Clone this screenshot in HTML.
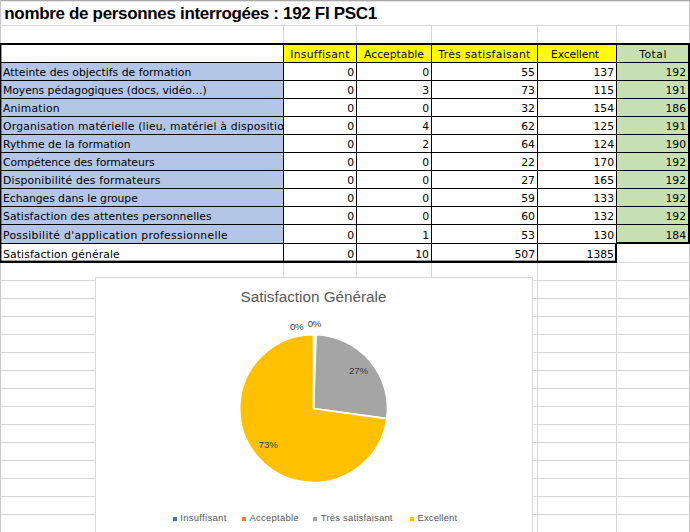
<!DOCTYPE html>
<html lang="fr"><head><meta charset="utf-8"><title>Satisfaction</title>
<style>
html,body{margin:0;padding:0;background:#fff}
body{width:690px;height:532px;position:relative;overflow:hidden;font-family:"DejaVu Sans","Liberation Sans",sans-serif;color:#000}
.a{position:absolute}
.g{position:absolute;background:#d6d6d6}
.k{position:absolute;background:#000}
.t{position:absolute;white-space:nowrap;font-size:10.8px;line-height:18px;height:18px;overflow:hidden}
.n{text-align:right}
.c{text-align:center}
.title{position:absolute;left:4.3px;top:3.3px;font-family:"Liberation Sans",sans-serif;font-weight:bold;font-size:17px;line-height:22px;white-space:nowrap;letter-spacing:-0.33px}
.ch{font-family:"Liberation Sans",sans-serif;color:#595959}
</style></head><body>

<div class="g" style="left:0;top:0;width:690px;height:1px;background:#a8a8a8"></div>
<div class="g" style="left:0;top:1px;width:690px;height:1px;background:#e6e6e6"></div>
<div class="g" style="left:0;top:0;width:1px;height:532px;background:#c9c9c9"></div>
<div class="g" style="left:0;top:25px;width:690px;height:1px"></div>
<div class="g" style="left:283px;top:26px;width:1px;height:17px"></div>
<div class="g" style="left:283px;top:263px;width:1px;height:269px"></div>
<div class="g" style="left:356px;top:26px;width:1px;height:17px"></div>
<div class="g" style="left:356px;top:263px;width:1px;height:269px"></div>
<div class="g" style="left:431px;top:26px;width:1px;height:17px"></div>
<div class="g" style="left:431px;top:263px;width:1px;height:269px"></div>
<div class="g" style="left:537px;top:26px;width:1px;height:17px"></div>
<div class="g" style="left:537px;top:263px;width:1px;height:269px"></div>
<div class="g" style="left:616px;top:26px;width:1px;height:17px"></div>
<div class="g" style="left:616px;top:263px;width:1px;height:269px"></div>
<div class="g" style="left:689px;top:1px;width:1px;height:42px;background:#c8c8c8"></div>
<div class="g" style="left:689px;top:244px;width:1px;height:288px;background:#c8c8c8"></div>
<div class="g" style="left:617px;top:262px;width:73px;height:1px"></div>
<div class="g" style="left:1px;top:280px;width:689px;height:1px"></div>
<div class="g" style="left:1px;top:298px;width:689px;height:1px"></div>
<div class="g" style="left:1px;top:316px;width:689px;height:1px"></div>
<div class="g" style="left:1px;top:334px;width:689px;height:1px"></div>
<div class="g" style="left:1px;top:352px;width:689px;height:1px"></div>
<div class="g" style="left:1px;top:370px;width:689px;height:1px"></div>
<div class="g" style="left:1px;top:388px;width:689px;height:1px"></div>
<div class="g" style="left:1px;top:406px;width:689px;height:1px"></div>
<div class="g" style="left:1px;top:424px;width:689px;height:1px"></div>
<div class="g" style="left:1px;top:442px;width:689px;height:1px"></div>
<div class="g" style="left:1px;top:460px;width:689px;height:1px"></div>
<div class="g" style="left:1px;top:478px;width:689px;height:1px"></div>
<div class="g" style="left:1px;top:496px;width:689px;height:1px"></div>
<div class="g" style="left:1px;top:514px;width:689px;height:1px"></div>
<div class="a" style="left:284px;top:45px;width:333px;height:17px;background:#ffff00"></div>
<div class="a" style="left:617px;top:45px;width:71px;height:197px;background:#c6e0b4"></div>
<div class="a" style="left:1px;top:63px;width:282px;height:180px;background:#b4c6e7"></div>
<div class="k" style="left:0;top:43px;width:690px;height:2px"></div>
<div class="k" style="left:0;top:43px;width:1px;height:220px"></div>
<div class="k" style="left:1px;top:43px;width:1px;height:220px;opacity:.4"></div>
<div class="k" style="left:688px;top:43px;width:2px;height:201px"></div>
<div class="k" style="left:0;top:62px;width:688px;height:1px"></div>
<div class="k" style="left:0;top:80px;width:688px;height:1px"></div>
<div class="k" style="left:0;top:98px;width:688px;height:1px"></div>
<div class="k" style="left:0;top:116px;width:688px;height:1px"></div>
<div class="k" style="left:0;top:134px;width:688px;height:1px"></div>
<div class="k" style="left:0;top:152px;width:688px;height:1px"></div>
<div class="k" style="left:0;top:170px;width:688px;height:1px"></div>
<div class="k" style="left:0;top:188px;width:688px;height:1px"></div>
<div class="k" style="left:0;top:206px;width:688px;height:1px"></div>
<div class="k" style="left:0;top:224px;width:688px;height:1px"></div>
<div class="k" style="left:0;top:243px;width:617px;height:1px"></div>
<div class="k" style="left:616px;top:242px;width:74px;height:2px"></div>
<div class="k" style="left:0;top:261px;width:617px;height:2px"></div>
<div class="k" style="left:0;top:260px;width:617px;height:1px;opacity:.4"></div>
<div class="k" style="left:283px;top:45px;width:1px;height:218px"></div>
<div class="k" style="left:356px;top:45px;width:1px;height:218px"></div>
<div class="k" style="left:431px;top:45px;width:1px;height:218px"></div>
<div class="k" style="left:537px;top:45px;width:1px;height:218px"></div>
<div class="k" style="left:616px;top:45px;width:1px;height:199px"></div>
<div class="k" style="left:615px;top:243px;width:2px;height:20px"></div>
<div class="title">nombre de personnes interrogées : 192 FI PSC1</div>
<div class="t c" style="left:284px;top:46px;width:72px;letter-spacing:0.273px">Insuffisant</div>
<div class="t c" style="left:357px;top:46px;width:74px">Acceptable</div>
<div class="t c" style="left:432px;top:46px;width:105px;letter-spacing:0.328px">Très satisfaisant</div>
<div class="t c" style="left:536px;top:46px;width:78px;letter-spacing:-0.166px">Excellent</div>
<div class="t c" style="left:617.6px;top:46px;width:71px;letter-spacing:0.52px">Total</div>
<div class="t" style="left:3px;top:64px;width:280px;letter-spacing:0.022px">Atteinte des objectifs de formation</div>
<div class="t n" style="left:284px;top:64px;width:70px">0</div>
<div class="t n" style="left:357px;top:64px;width:72px">0</div>
<div class="t n" style="left:432px;top:64px;width:103px">55</div>
<div class="t n" style="left:538px;top:64px;width:76px">137</div>
<div class="t n" style="left:617px;top:64px;width:69px">192</div>
<div class="t" style="left:3px;top:82px;width:280px;letter-spacing:-0.041px">Moyens pédagogiques (docs, vidéo…)</div>
<div class="t n" style="left:284px;top:82px;width:70px">0</div>
<div class="t n" style="left:357px;top:82px;width:72px">3</div>
<div class="t n" style="left:432px;top:82px;width:103px">73</div>
<div class="t n" style="left:538px;top:82px;width:76px">115</div>
<div class="t n" style="left:617px;top:82px;width:69px">191</div>
<div class="t" style="left:3px;top:100px;width:280px;letter-spacing:0.193px">Animation</div>
<div class="t n" style="left:284px;top:100px;width:70px">0</div>
<div class="t n" style="left:357px;top:100px;width:72px">0</div>
<div class="t n" style="left:432px;top:100px;width:103px">32</div>
<div class="t n" style="left:538px;top:100px;width:76px">154</div>
<div class="t n" style="left:617px;top:100px;width:69px">186</div>
<div class="t" style="left:3px;top:118px;width:280px;letter-spacing:0.19px">Organisation matérielle (lieu, matériel à disposition)</div>
<div class="t n" style="left:284px;top:118px;width:70px">0</div>
<div class="t n" style="left:357px;top:118px;width:72px">4</div>
<div class="t n" style="left:432px;top:118px;width:103px">62</div>
<div class="t n" style="left:538px;top:118px;width:76px">125</div>
<div class="t n" style="left:617px;top:118px;width:69px">191</div>
<div class="t" style="left:3px;top:136px;width:280px;letter-spacing:0.009px">Rythme de la formation</div>
<div class="t n" style="left:284px;top:136px;width:70px">0</div>
<div class="t n" style="left:357px;top:136px;width:72px">2</div>
<div class="t n" style="left:432px;top:136px;width:103px">64</div>
<div class="t n" style="left:538px;top:136px;width:76px">124</div>
<div class="t n" style="left:617px;top:136px;width:69px">190</div>
<div class="t" style="left:3px;top:154px;width:280px;letter-spacing:-0.101px">Compétence des formateurs</div>
<div class="t n" style="left:284px;top:154px;width:70px">0</div>
<div class="t n" style="left:357px;top:154px;width:72px">0</div>
<div class="t n" style="left:432px;top:154px;width:103px">22</div>
<div class="t n" style="left:538px;top:154px;width:76px">170</div>
<div class="t n" style="left:617px;top:154px;width:69px">192</div>
<div class="t" style="left:3px;top:172px;width:280px;letter-spacing:0.184px">Disponibilité des formateurs</div>
<div class="t n" style="left:284px;top:172px;width:70px">0</div>
<div class="t n" style="left:357px;top:172px;width:72px">0</div>
<div class="t n" style="left:432px;top:172px;width:103px">27</div>
<div class="t n" style="left:538px;top:172px;width:76px">165</div>
<div class="t n" style="left:617px;top:172px;width:69px">192</div>
<div class="t" style="left:3px;top:190px;width:280px;letter-spacing:-0.057px">Echanges dans le groupe</div>
<div class="t n" style="left:284px;top:190px;width:70px">0</div>
<div class="t n" style="left:357px;top:190px;width:72px">0</div>
<div class="t n" style="left:432px;top:190px;width:103px">59</div>
<div class="t n" style="left:538px;top:190px;width:76px">133</div>
<div class="t n" style="left:617px;top:190px;width:69px">192</div>
<div class="t" style="left:3px;top:208px;width:280px;letter-spacing:0.055px">Satisfaction des attentes personnelles</div>
<div class="t n" style="left:284px;top:208px;width:70px">0</div>
<div class="t n" style="left:357px;top:208px;width:72px">0</div>
<div class="t n" style="left:432px;top:208px;width:103px">60</div>
<div class="t n" style="left:538px;top:208px;width:76px">132</div>
<div class="t n" style="left:617px;top:208px;width:69px">192</div>
<div class="t" style="left:3px;top:227px;width:280px;letter-spacing:0.321px">Possibilité d'application professionnelle</div>
<div class="t n" style="left:284px;top:227px;width:70px">0</div>
<div class="t n" style="left:357px;top:227px;width:72px">1</div>
<div class="t n" style="left:432px;top:227px;width:103px">53</div>
<div class="t n" style="left:538px;top:227px;width:76px">130</div>
<div class="t n" style="left:617px;top:227px;width:69px">184</div>
<div class="t" style="left:3px;top:246px;width:280px;letter-spacing:0.11px">Satisfaction générale</div>
<div class="t n" style="left:284px;top:246px;width:70px">0</div>
<div class="t n" style="left:357px;top:246px;width:72px">10</div>
<div class="t n" style="left:432px;top:246px;width:103px">507</div>
<div class="t n" style="left:538px;top:246px;width:76px">1385</div>
<div class="a" style="left:95px;top:277px;width:438px;height:270px;background:#fff;border:1px solid #d9d9d9;box-sizing:border-box"></div>
<svg class="a" style="left:95px;top:277px" width="437" height="255" viewBox="95 277 437 255"><path d="M313.60,408.55 L313.60,334.55 A74.0,74.0 0 0 1 316.04,334.59 Z" fill="#ed7d31" fill-opacity=".12" stroke="#fff" stroke-width="1.8" stroke-linejoin="round"/><path d="M313.60,408.55 L316.04,334.59 A74.0,74.0 0 0 1 386.91,418.66 Z" fill="#a5a5a5" stroke="#fff" stroke-width="1.8" stroke-linejoin="round"/><path d="M313.60,408.55 L386.91,418.66 A74.0,74.0 0 1 1 313.60,334.55 Z" fill="#ffc000" stroke="#fff" stroke-width="1.8" stroke-linejoin="round"/></svg>
<div class="a ch" style="left:95px;top:287px;width:437px;text-align:center;font-size:15.25px;line-height:20px">Satisfaction Générale</div>
<div class="a ch" style="left:290px;top:320.5px;font-size:9.7px;line-height:12px;color:#3a3a3a;white-space:nowrap;letter-spacing:-0.4px">0%</div>
<div class="a ch" style="left:307.8px;top:318px;font-size:9.7px;line-height:12px;color:#3a3a3a;white-space:nowrap;letter-spacing:-0.4px">0%</div>
<div class="a ch" style="left:349px;top:364.8px;font-size:9.7px;line-height:12px;color:#3a3a3a;white-space:nowrap;letter-spacing:-0.1px">27%</div>
<div class="a ch" style="left:258.6px;top:438.8px;font-size:9.7px;line-height:12px;color:#3a3a3a;white-space:nowrap;letter-spacing:-0.1px">73%</div>
<div class="a" style="left:173px;top:517px;width:3.5px;height:3.5px;background:#4472c4"></div>
<div class="a ch" style="left:180.2px;top:511.3px;font-size:9.5px;line-height:13px;white-space:nowrap;letter-spacing:0.3px">Insuffisant</div>
<div class="a" style="left:242px;top:517px;width:3.5px;height:3.5px;background:#ed7d31"></div>
<div class="a ch" style="left:249.4px;top:511.3px;font-size:9.5px;line-height:13px;white-space:nowrap;letter-spacing:0.25px">Acceptable</div>
<div class="a" style="left:313px;top:517px;width:3.5px;height:3.5px;background:#a5a5a5"></div>
<div class="a ch" style="left:320.8px;top:511.3px;font-size:9.5px;line-height:13px;white-space:nowrap;letter-spacing:0.18px">Très satisfaisant</div>
<div class="a" style="left:410.2px;top:517px;width:3.5px;height:3.5px;background:#ffc000"></div>
<div class="a ch" style="left:417.4px;top:511.3px;font-size:9.5px;line-height:13px;white-space:nowrap;letter-spacing:0.15px">Excellent</div>
</body></html>
